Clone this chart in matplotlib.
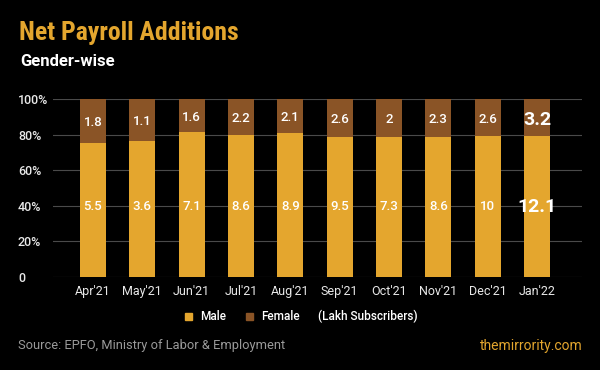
import matplotlib
matplotlib.use('Agg')
import matplotlib.pyplot as plt
import matplotlib.patches as patches
import numpy as np

months = ["Apr'21", "May'21", "Jun'21", "Jul'21", "Aug'21", "Sep'21", "Oct'21", "Nov'21", "Dec'21", "Jan'22"]
male = [5.5, 3.6, 7.1, 8.6, 8.9, 9.5, 7.3, 8.6, 10, 12.1]
female = [1.8, 1.1, 1.6, 2.2, 2.1, 2.6, 2, 2.3, 2.6, 3.2]
male_lbl = ['5.5', '3.6', '7.1', '8.6', '8.9', '9.5', '7.3', '8.6', '10', '12.1']
female_lbl = ['1.8', '1.1', '1.6', '2.2', '2.1', '2.6', '2', '2.3', '2.6', '3.2']
yticks = [0, 20, 40, 60, 80, 100]
ytick_lbl = ['0', '20%', '40%', '60%', '80%', '100%']

c_male = '#E4A62E'
c_female = '#8A5426'
plt.rcParams['font.family'] = ['Roboto', 'DejaVu Sans']

m = np.array(male)
f = np.array(female)
male_pct = m / (m + f) * 100
female_pct = 100 - male_pct

fig = plt.figure(figsize=(6, 3.7), dpi=100, facecolor='black')
ax = fig.add_axes([53/600, 1 - 277/370, (582-53)/600, (277-99)/370])
ax.set_facecolor('black')
x = np.arange(len(months))
ax.bar(x, male_pct, width=0.53, color=c_male, zorder=2)
ax.bar(x, female_pct, bottom=male_pct, width=0.53, color=c_female, zorder=2)

for i in range(len(months)):
    big = i == len(months) - 1
    ax.text(x[i], 39.5, male_lbl[i], ha='center', va='center', color='white',
            fontsize=14 if big else 9.5, fontweight='bold' if big else 'medium', zorder=3)
    ax.text(x[i], male_pct[i] + female_pct[i] / 2 - 1 if not big else 88, female_lbl[i],
            ha='center', va='center', color='white',
            fontsize=14 if big else 9.5, fontweight='bold' if big else 'medium', zorder=3)

ax.set_xlim(-0.81, 9.91)
ax.set_ylim(0, 100)
ax.set_yticks(yticks)
ax.set_yticklabels(ytick_lbl, ha='left', fontweight='medium')
ax.set_xticks(x)
ax.set_xticklabels(months)
ax.grid(axis='y', color='#4a4a4a', linewidth=0.8, zorder=0)
for s in ax.spines.values():
    s.set_visible(False)
ax.tick_params(length=0, colors='#e8e8e8', labelsize=9)
ax.tick_params(axis='y', pad=25.2)
ax.tick_params(axis='x', pad=6)

fig.text(19/600, 1 - 33/370, 'Net Payroll Additions', color=c_male, fontsize=18.5, fontweight='bold',
         va='center', ha='left', family=['Roboto Condensed', 'DejaVu Sans'])
fig.text(20/600, 1 - 62/370, 'Gender-wise', color='white', fontsize=12, fontweight='bold',
         va='center', ha='left')

# legend
fig.patches.append(patches.Rectangle((185/600, 1 - 320/370), 7/600, 7/370, color=c_male,
                                     transform=fig.transFigure, figure=fig))
fig.text(200/600, 1 - 316/370, 'Male', color='white', fontsize=8.5, va='center', fontweight='medium')
fig.patches.append(patches.Rectangle((246/600, 1 - 320/370), 7/600, 7/370, color=c_female,
                                     transform=fig.transFigure, figure=fig))
fig.text(261/600, 1 - 316/370, 'Female', color='white', fontsize=8.5, va='center', fontweight='medium')
fig.text(318/600, 1 - 316/370, '(Lakh Subscribers)', color='white', fontsize=8.5, va='center', fontweight='medium')

fig.text(18/600, 1 - 346/370, 'Source: EPFO, Ministry of Labor & Employment', color='#9a9a9a',
         fontsize=9.3, va='center', ha='left')
fig.text(583/600, 1 - 346/370, 'themirrority.com', color=c_male, fontsize=10, va='center', ha='right')

fig.savefig('out.png', dpi=100, facecolor='black')
